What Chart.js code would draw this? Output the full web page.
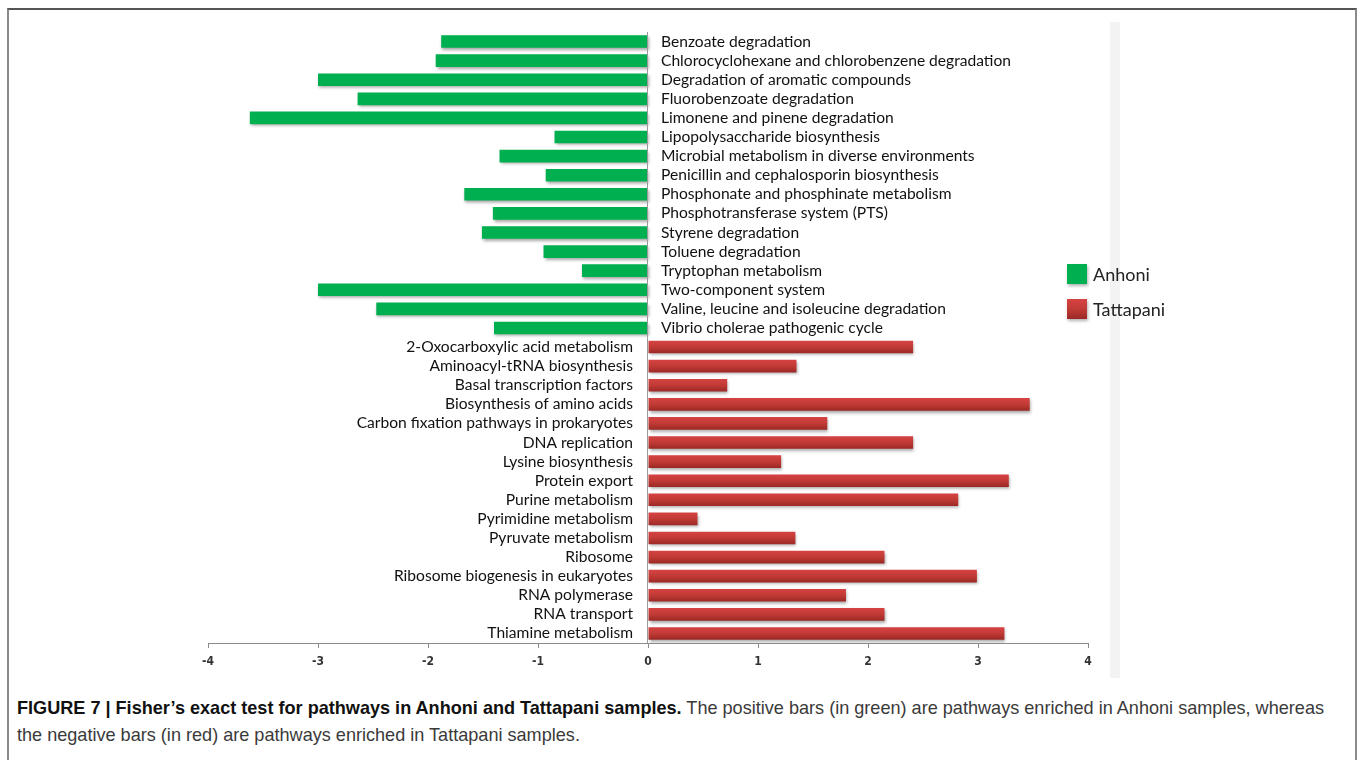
<!DOCTYPE html>
<html>
<head>
<meta charset="utf-8">
<script src="https://cdn.jsdelivr.net/npm/chart.js@4/dist/chart.umd.min.js"></script>
<style>
  html, body { margin:0; padding:0; background:#fff; }
  body { width:1357px; height:760px; position:relative; overflow:hidden; }
  #frame { position:absolute; left:7px; top:8px; width:1346px; height:800px; border-top:2px solid #555; border-left:2px solid #8a8a8a; border-right:2px solid #8a8a8a; }
  #strip { position:absolute; left:1110px; top:22px; width:10px; height:656px; background:#f3f3f3; }
  #wrap { position:absolute; left:0; top:0; width:1357px; height:690px; }
  #caption { position:absolute; left:17px; top:695px; font-family:"Liberation Sans", Arial, sans-serif; font-size:18.1px; line-height:27px; color:#3a3a3a; white-space:nowrap; }
  #caption b { color:#111; }
</style>
</head>
<body>
<div id="frame"></div>
<div id="strip"></div>
<div id="wrap"><canvas id="chart"></canvas></div>
<div id="caption"><b>FIGURE 7 | Fisher’s exact test for pathways in Anhoni and Tattapani samples.</b> The positive bars (in green) are pathways enriched in Anhoni samples, whereas<br>the negative bars (in red) are pathways enriched in Tattapani samples.</div>
<script>
const anhoniPathways = [
  'Benzoate degradation',
  'Chlorocyclohexane and chlorobenzene degradation',
  'Degradation of aromatic compounds',
  'Fluorobenzoate degradation',
  'Limonene and pinene degradation',
  'Lipopolysaccharide biosynthesis',
  'Microbial metabolism in diverse environments',
  'Penicillin and cephalosporin biosynthesis',
  'Phosphonate and phosphinate metabolism',
  'Phosphotransferase system (PTS)',
  'Styrene degradation',
  'Toluene degradation',
  'Tryptophan metabolism',
  'Two-component system',
  'Valine, leucine and isoleucine degradation',
  'Vibrio cholerae pathogenic cycle'
];
const anhoniValues = [-1.88, -1.93, -3.0, -2.64, -3.62, -0.85, -1.35, -0.93, -1.67, -1.41, -1.51, -0.95, -0.6, -3.0, -2.47, -1.4];

const tattapaniPathways = [
  '2-Oxocarboxylic acid metabolism',
  'Aminoacyl-tRNA biosynthesis',
  'Basal transcription factors',
  'Biosynthesis of amino acids',
  'Carbon fixation pathways in prokaryotes',
  'DNA replication',
  'Lysine biosynthesis',
  'Protein export',
  'Purine metabolism',
  'Pyrimidine metabolism',
  'Pyruvate metabolism',
  'Ribosome',
  'Ribosome biogenesis in eukaryotes',
  'RNA polymerase',
  'RNA transport',
  'Thiamine metabolism'
];
const tattapaniValues = [2.41, 1.35, 0.72, 3.47, 1.63, 2.41, 1.21, 3.28, 2.82, 0.45, 1.34, 2.15, 2.99, 1.8, 2.15, 3.24];

const xTicks = [-4, -3, -2, -1, 0, 1, 2, 3, 4];

const GREEN = '#00b050';
const RED = '#c23a36';
const labelFont = '15.6px Lato, "Open Sans", sans-serif';

const labels = anhoniPathways.concat(tattapaniPathways);
const greenData = anhoniValues.concat(tattapaniPathways.map(() => null));
const redData = anhoniPathways.map(() => null).concat(tattapaniValues);

function redGradient(ctx, top, bottom){
  const g = ctx.createLinearGradient(0, top, 0, bottom);
  g.addColorStop(0, '#d64343');
  g.addColorStop(0.5, '#c13a35');
  g.addColorStop(1, '#9a2825');
  return g;
}

// red bars get a light-to-dark vertical gradient per bar
function redFill(c){
  const chart = c.chart;
  const y = chart.scales && chart.scales.y;
  if(!y || !chart.chartArea || c.dataIndex === undefined) return RED;
  const yc = y.getPixelForValue(c.dataIndex);
  return redGradient(chart.ctx, yc - 6.5, yc + 6.5);
}

const barShadow = {
  id: 'barShadow',
  beforeDatasetsDraw(chart){
    const ctx = chart.ctx;
    ctx.save();
    ctx.shadowColor = 'rgba(0,0,0,0.35)';
    ctx.shadowBlur = 3;
    ctx.shadowOffsetX = 1;
    ctx.shadowOffsetY = 2;
  },
  afterDatasetsDraw(chart){ chart.ctx.restore(); }
};

// zero line + pathway names on the opposite side of each bar
const pathwayLabels = {
  id: 'pathwayLabels',
  afterDatasetsDraw(chart){
    const ctx = chart.ctx, x = chart.scales.x, y = chart.scales.y;
    const x0 = x.getPixelForValue(0);
    ctx.save();
    ctx.strokeStyle = '#9a9a9a';
    ctx.lineWidth = 1;
    ctx.beginPath();
    ctx.moveTo(x0 - 0.5, chart.chartArea.top);
    ctx.lineTo(x0 - 0.5, chart.chartArea.bottom);
    ctx.stroke();
    ctx.font = labelFont;
    ctx.fillStyle = '#111';
    ctx.textBaseline = 'middle';
    labels.forEach((name, i) => {
      const yc = y.getPixelForValue(i);
      const v = greenData[i] !== null ? greenData[i] : redData[i];
      if(v < 0){ ctx.textAlign = 'left'; ctx.fillText(name, x0 + 13, yc); }
      else { ctx.textAlign = 'right'; ctx.fillText(name, x0 - 15, yc); }
    });
    ctx.restore();
  }
};

// legend sitting inside the plot on the right
const sideLegend = {
  id: 'sideLegend',
  afterDraw(chart){
    const ctx = chart.ctx;
    const left = 1067, top = 264, size = 20, gap = 35;
    ctx.save();
    chart.data.datasets.forEach((ds, i) => {
      const ty = top + i * gap;
      ctx.save();
      ctx.shadowColor = 'rgba(0,0,0,0.3)';
      ctx.shadowBlur = 3;
      ctx.shadowOffsetX = 1;
      ctx.shadowOffsetY = 2;
      ctx.fillStyle = i === 0 ? GREEN : redGradient(ctx, ty, ty + size);
      ctx.fillRect(left, ty, size, size);
      ctx.restore();
      ctx.font = '18px Lato, "Open Sans", sans-serif';
      ctx.fillStyle = '#222';
      ctx.textAlign = 'left';
      ctx.textBaseline = 'middle';
      ctx.fillText(ds.label, left + size + 6, ty + size / 2 + 1);
    });
    ctx.restore();
  }
};

new Chart(document.getElementById('chart'), {
  type: 'bar',
  data: {
    labels,
    datasets: [
      { label:'Anhoni', data:greenData, backgroundColor:GREEN, grouped:false, barPercentage:0.66, categoryPercentage:1 },
      { label:'Tattapani', data:redData, backgroundColor:redFill, grouped:false, barPercentage:0.66, categoryPercentage:1 }
    ]
  },
  options: {
    indexAxis: 'y',
    responsive: true,
    maintainAspectRatio: false,
    animation: false,
    layout: { padding: { left:208, right:269, top:32, bottom:17 } },
    plugins: { legend:{ display:false }, tooltip:{ enabled:false } },
    scales: {
      x: {
        min: -4, max: 4,
        afterFit(scale){ scale.height = 30; },
        afterBuildTicks(scale){ scale.ticks = xTicks.map(v => ({ value:v })); },
        grid: { drawOnChartArea:false, drawTicks:true, tickLength:5, color:'#8a8a8a' },
        border: { display:true, color:'#8a8a8a' },
        ticks: { padding:7, color:'#333', font:{ family:'"Liberation Sans Narrow", "DejaVu Sans Condensed", sans-serif', size:12, weight:'bold' }, callback:v => String(v) }
      },
      y: { display:false }
    }
  },
  plugins: [barShadow, pathwayLabels, sideLegend]
});
</script>
</body>
</html>
